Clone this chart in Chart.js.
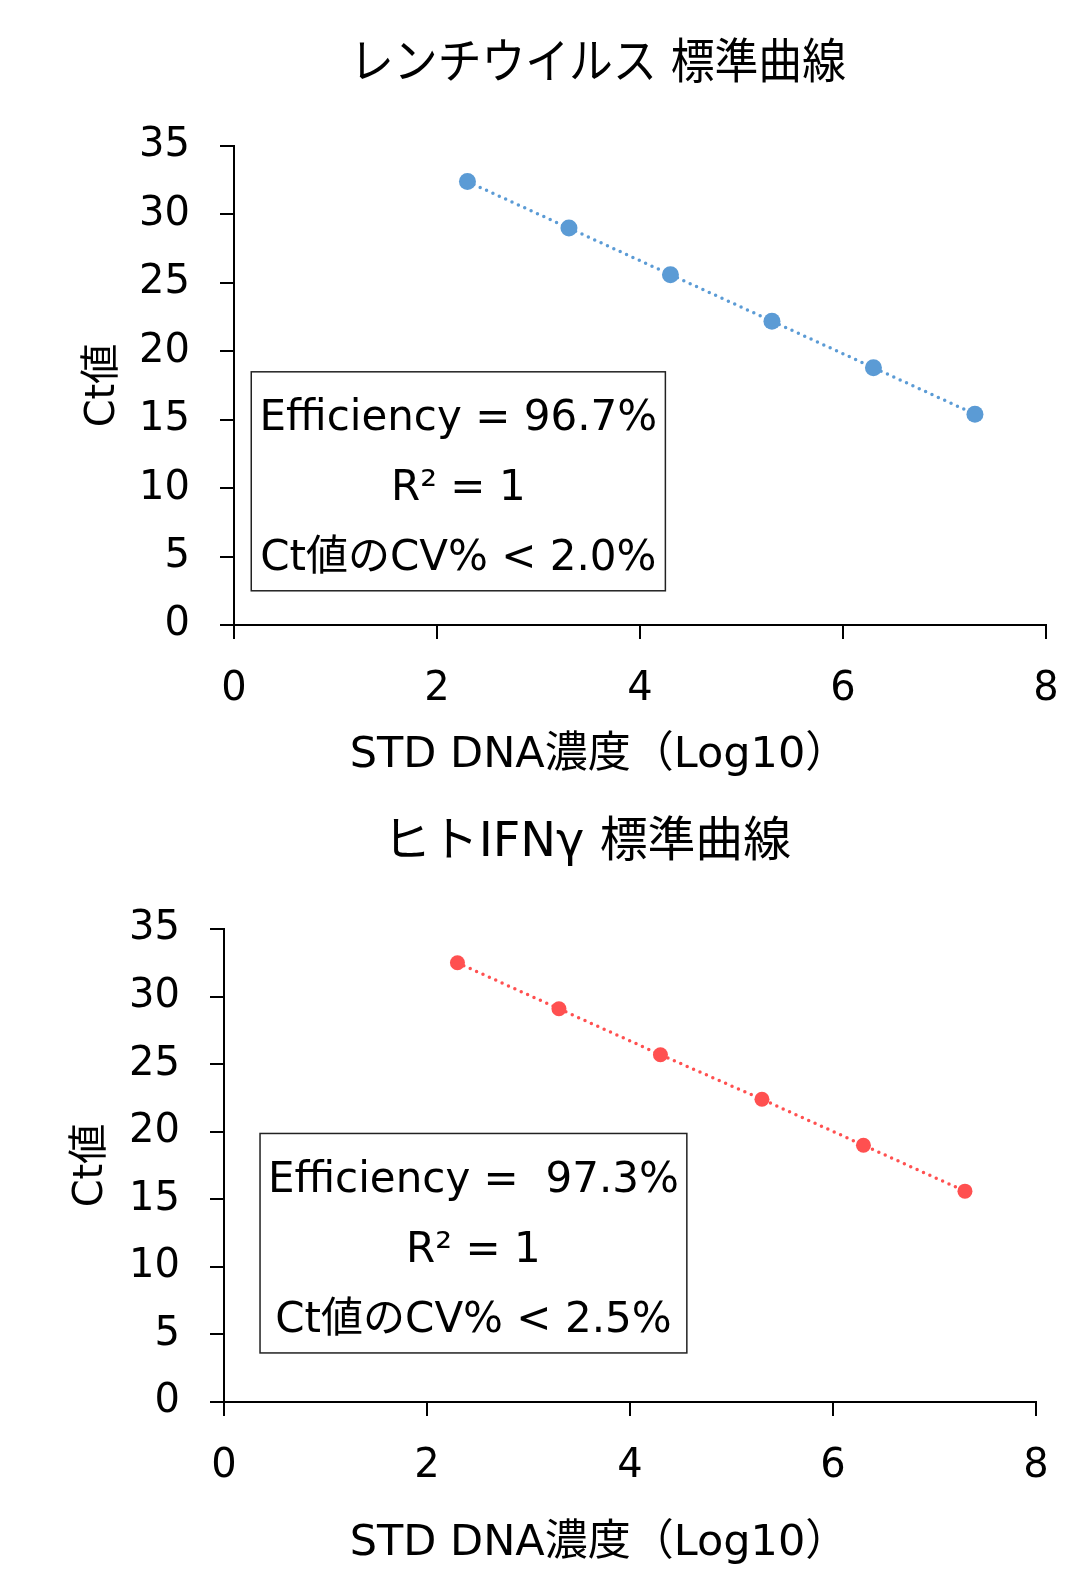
<!DOCTYPE html>
<html>
<head>
<meta charset="utf-8">
<script src="https://cdn.jsdelivr.net/npm/chart.js@4.4.1/dist/chart.umd.min.js"></script>
<style>
  body { margin: 0; background: #fff; }
  canvas { display: block; }
</style>
</head>
<body>
<canvas id="lentiChart" width="1079" height="785"></canvas>
<canvas id="ifnChart" width="1079" height="784"></canvas>
<script>
const FONT = "'DejaVu Sans', 'Noto Sans CJK JP', sans-serif";

// log10 of STD DNA concentration
const logConc = [2.3, 3.3, 4.3, 5.3, 6.3, 7.3];
const lentiCt = [32.4, 29.0, 25.6, 22.2, 18.8, 15.4];
const ifnCt = [32.5, 29.1, 25.7, 22.4, 19.0, 15.6];

const xTicks = [0, 2, 4, 6, 8];
const yTicks = [0, 5, 10, 15, 20, 25, 30, 35];

const lentiNotes = ['Efficiency = 96.7%', 'R² = 1', 'Ct値のCV% < 2.0%'];
const ifnNotes = ['Efficiency =  97.3%', 'R² = 1', 'Ct値のCV% < 2.5%'];
const xLabel = 'STD DNA濃度（Log10）';

// text box, placed in data units, plus chart title and x title
const extras = {
  id: 'extras',
  afterDraw(chart, args, opts) {
    const { ctx, scales: { x, y } } = chart;
    const l = x.getPixelForValue(opts.box[0]), r = x.getPixelForValue(opts.box[1]);
    const t = y.getPixelForValue(opts.box[3]), b = y.getPixelForValue(opts.box[2]);
    ctx.save();
    ctx.strokeStyle = '#222';
    ctx.lineWidth = 1.5;
    ctx.strokeRect(l, t, r - l, b - t);
    ctx.fillStyle = '#000';
    ctx.textAlign = 'center';
    ctx.textBaseline = 'middle';
    ctx.font = '42px ' + FONT;
    const cx = (l + r) / 2, cy = (t + b) / 2 + 8;
    opts.lines.forEach((s, i) => {
      ctx.fillText(s, cx, cy + (i - 1) * 70);
    });
    ctx.font = '48px ' + FONT;
    ctx.fillText(opts.title, opts.titleX, opts.titleY, opts.titleW);
    ctx.font = '43px ' + FONT;
    ctx.fillText(xLabel, opts.xTitleX, opts.xTitleY);
    ctx.restore();
  }
};

function makeChart(id, o) {
  new Chart(document.getElementById(id), {
    type: 'scatter',
    data: {
      datasets: [{
        data: logConc.map((v, i) => ({ x: v, y: o.values[i] })),
        showLine: true,
        borderColor: o.color,
        backgroundColor: o.color,
        borderWidth: 3.5,
        borderDash: [0, 7],
        borderCapStyle: 'round',
        pointRadius: o.radius,
        pointBorderWidth: 0
      }]
    },
    options: {
      responsive: false,
      animation: false,
      devicePixelRatio: 1,
      layout: { padding: { left: 0, right: o.padRight, top: o.padTop, bottom: 0 } },
      plugins: {
        legend: { display: false },
        tooltip: { enabled: false },
        title: { display: false },
        extras: {
          lines: o.notes, box: o.box,
          title: o.title, titleX: o.titleX, titleY: o.titleY, titleW: o.titleW,
          xTitleX: o.xTitleX, xTitleY: o.xTitleY
        }
      },
      scales: {
        x: {
          type: 'linear', min: 0, max: 8,
          afterBuildTicks: s => { s.ticks = xTicks.map(v => ({ value: v })); },
          afterFit: s => {
            s.height = o.xHeight;
            s.paddingLeft = 0;
            s.paddingRight = 0;
          },
          ticks: { color: '#000', font: { family: FONT, size: 40 }, padding: 27 },
          grid: { drawOnChartArea: false, color: '#000', tickLength: 14, lineWidth: 2 },
          border: { color: '#000', width: 2 }
        },
        y: {
          min: 0, max: 35,
          afterBuildTicks: s => { s.ticks = yTicks.map(v => ({ value: v })); },
          afterFit: s => { s.width = o.yWidth; },
          ticks: { color: '#000', font: { family: FONT, size: 40 }, padding: 30 },
          grid: { drawOnChartArea: false, color: '#000', tickLength: 14, lineWidth: 2 },
          border: { color: '#000', width: 2 },
          title: {
            display: true, text: 'Ct値', color: '#000',
            font: { family: FONT, size: 40, lineHeight: 1.2 },
            padding: { top: o.yTitlePad, bottom: 0 }
          }
        }
      }
    },
    plugins: [extras]
  });
}

makeChart('lentiChart', {
  title: 'レンチウイルス 標準曲線',
  titleX: 598, titleY: 66, titleW: 496,
  xTitleX: 599, xTitleY: 756,
  values: lentiCt,
  color: '#5B9BD5',
  radius: 8.5,
  notes: lentiNotes,
  box: [0.17, 4.25, 2.5, 18.5],
  padRight: 33,
  padTop: 146,
  xHeight: 160,
  yWidth: 234,
  yTitlePad: 80
});

makeChart('ifnChart', {
  title: 'ヒトIFNγ 標準曲線',
  titleX: 587, titleY: 59, titleW: 408,
  xTitleX: 599, xTitleY: 759,
  values: ifnCt,
  color: '#FF5050',
  radius: 7.5,
  notes: ifnNotes,
  box: [0.355, 4.56, 3.63, 19.87],
  padRight: 43,
  padTop: 144,
  xHeight: 167,
  yWidth: 224,
  yTitlePad: 68
});
</script>
</body>
</html>
